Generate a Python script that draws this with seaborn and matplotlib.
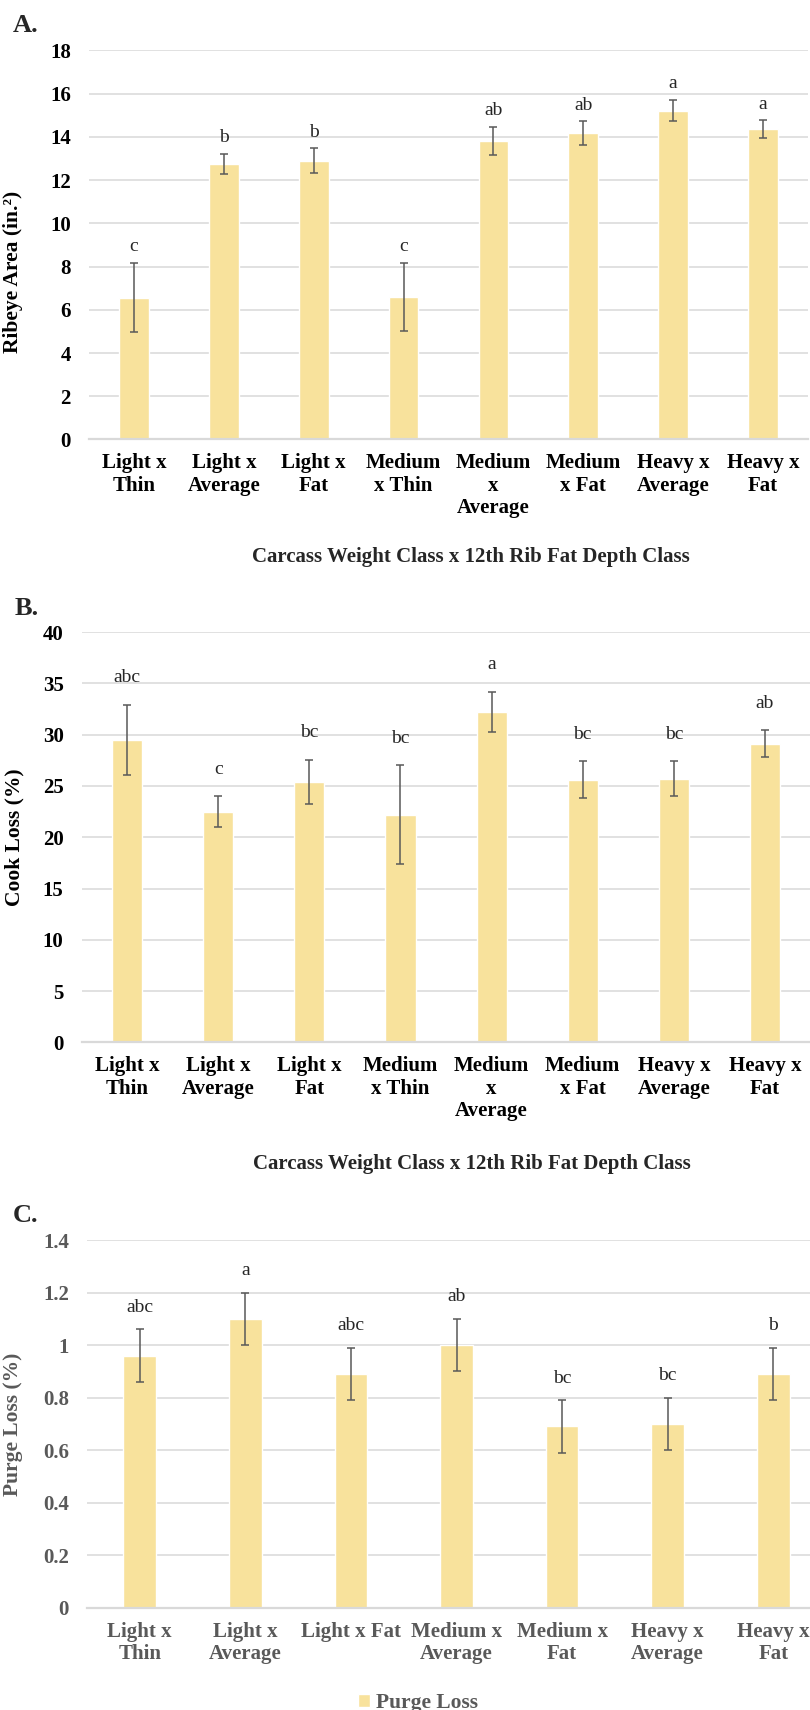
import matplotlib
matplotlib.use("Agg")
import matplotlib.pyplot as plt
import numpy as np
import seaborn as sns

# ---- data ----
cats8 = ["Light x Thin", "Light x Average", "Light x Fat", "Medium x Thin",
         "Medium x Average", "Medium x Fat", "Heavy x Average", "Heavy x Fat"]
ticks8 = ["Light x\nThin", "Light x\nAverage", "Light x\nFat", "Medium\nx Thin",
          "Medium\nx\nAverage", "Medium\nx Fat", "Heavy x\nAverage", "Heavy x\nFat"]

ribeye = [6.57, 12.76, 12.91, 6.59, 13.82, 14.18, 15.22, 14.35]
ribeye_se = [1.60, 0.47, 0.57, 1.59, 0.66, 0.55, 0.50, 0.42]
ribeye_letters = ["c", "b", "b", "c", "ab", "ab", "a", "a"]

cook = [29.5, 22.5, 25.4, 22.2, 32.25, 25.6, 25.7, 29.1]
cook_se = [3.4, 1.5, 2.15, 4.8, 1.95, 1.8, 1.7, 1.3]
cook_letters = ["abc", "c", "bc", "bc", "a", "bc", "bc", "ab"]

cats7 = ["Light x Thin", "Light x Average", "Light x Fat", "Medium x Average",
         "Medium x Fat", "Heavy x Average", "Heavy x Fat"]
ticks7 = ["Light x\nThin", "Light x\nAverage", "Light x Fat", "Medium x\nAverage",
          "Medium x\nFat", "Heavy x\nAverage", "Heavy x\nFat"]
purge = [0.96, 1.10, 0.89, 1.00, 0.69, 0.70, 0.89]
purge_se = [0.10, 0.10, 0.10, 0.10, 0.10, 0.10, 0.10]
purge_letters = ["abc", "a", "abc", "ab", "bc", "bc", "b"]

xtitle = "Carcass Weight Class x 12th Rib Fat Depth Class"

bar_color = "#F8E29C"
grid_color = "#D9D9D9"
err_color = "#595959"
gray = "#595959"

sns.set_style("white")
plt.rcParams["font.family"] = ["Liberation Serif", "DejaVu Serif"]

W, H = 810, 1710
fig = plt.figure(figsize=(W / 100, H / 100), dpi=100)


def px_axes(l, t, r, b):
    return fig.add_axes([l / W, 1 - b / H, (r - l) / W, (b - t) / H])


def panel(ax, cats, ticks, vals, se, letters, ymax, ystep, ylabel, letter_off,
          width, tcolor="black", label=None):
    sns.barplot(x=cats, y=vals, color=bar_color, width=width, errorbar=None,
                saturation=1, ax=ax, label=label)
    ax.errorbar(np.arange(len(cats)), vals, yerr=se, fmt="none", ecolor=err_color,
                elinewidth=1.1, capsize=3, capthick=1.1, zorder=3)
    for i, (v, s, lt) in enumerate(zip(vals, se, letters)):
        ax.annotate(lt, (i, v + s), xytext=(0, letter_off), textcoords="offset points",
                    ha="center", va="center", fontsize=14)
    ax.set_xlim(-0.5, len(cats) - 0.5)
    ax.set_ylim(0, ymax)
    ax.set_yticks(np.arange(0, ymax + ystep / 2, ystep))
    ax.set_yticklabels([f"{t:g}" for t in np.arange(0, ymax + ystep / 2, ystep)],
                       fontsize=15, fontweight="bold", color=tcolor)
    ax.set_xticks(range(len(cats)))
    ax.set_xticklabels(ticks, fontsize=15, fontweight="bold", color=tcolor,
                       linespacing=1.15)
    ax.tick_params(axis="both", length=0)
    ax.tick_params(axis="x", pad=10)
    ax.tick_params(axis="y", pad=13)
    ax.yaxis.grid(True, color=grid_color, lw=1.1)
    ax.set_axisbelow(True)
    for s in ["left", "right", "top"]:
        ax.spines[s].set_visible(False)
    ax.spines["bottom"].set_color(grid_color)
    ax.spines["bottom"].set_linewidth(1.6)
    ax.set_xlabel("")
    ax.set_ylabel(ylabel, fontsize=15.5, fontweight="bold", color=tcolor)


# Panel A
axA = px_axes(89, 50.5, 808, 439.5)
panel(axA, cats8, ticks8, ribeye, ribeye_se, ribeye_letters, 18, 2,
      "Ribeye Area (in.²)", 11.5, 0.33)
axA.yaxis.set_label_coords((23 - 89) / (808 - 89), (439.5 - 272) / 389)
fig.text(13 / W, 1 - 25 / H, "A.", fontsize=19, fontweight="bold", va="center")
fig.text(471 / W, 1 - 557 / H, xtitle, fontsize=15, fontweight="bold",
         ha="center", va="center")

# Panel B
axB = px_axes(81.6, 632, 810.5, 1042.4)
panel(axB, cats8, ticks8, cook, cook_se, cook_letters, 40, 5,
      "Cook Loss (%)", 19.5, 0.33)
axB.yaxis.set_label_coords((24 - 81.6) / (810.5 - 81.6), 0.5)
fig.text(15 / W, 1 - 608 / H, "B.", fontsize=19, fontweight="bold", va="center")
fig.text(472 / W, 1 - 1164 / H, xtitle, fontsize=15, fontweight="bold",
         ha="center", va="center")

# Panel C
axC = px_axes(87, 1240, 826, 1607.7)
panel(axC, cats7, ticks7, purge, purge_se, purge_letters, 1.4, 0.2,
      "Purge Loss (%)", 15.8, 0.31, tcolor=gray, label="Purge Loss")
axC.yaxis.set_label_coords((23 - 87) / (826 - 87), 0.5)
fig.text(13 / W, 1 - 1215 / H, "C.", fontsize=19, fontweight="bold", va="center")
leg = axC.legend(loc="center", bbox_to_anchor=(418 / W, 1 - 1703 / H),
                 bbox_transform=fig.transFigure, frameon=False,
                 prop={"size": 15.5, "weight": "bold"},
                 handlelength=0.55, handleheight=0.55, handletextpad=0.3)
for t in leg.get_texts():
    t.set_color(gray)

fig.savefig("out.png", dpi=100)
